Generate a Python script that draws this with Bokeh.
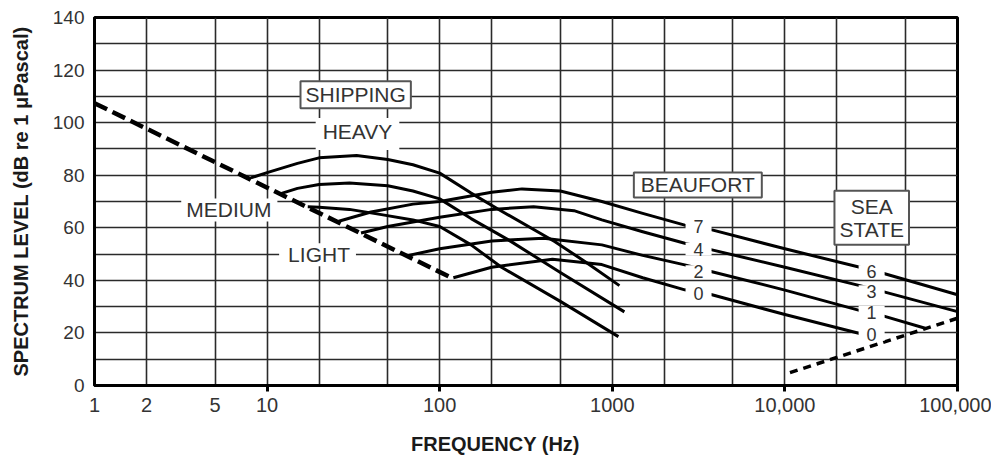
from bokeh.plotting import figure
from bokeh.models import FixedTicker, Label
from bokeh.embed import file_html
from bokeh.resources import INLINE

# ---------------- data ----------------
# turbulence / lower shipping boundary (dashed)
freq_turb = [1, 117]
lvl_turb = [107.4, 41.0]

# shipping curves
freq_heavy = [8.05, 10, 15, 20, 33, 50, 70, 100, 152, 226, 463, 700, 1100]
lvl_heavy = [79.0, 81.0, 84.5, 86.6, 87.5, 86.0, 84.0, 80.8, 73.2, 66.5, 54.8, 47.0, 38.0]

freq_medium = [12, 15, 20, 30, 50, 70, 100, 152, 250, 500, 1175]
lvl_medium = [73.0, 75.0, 76.5, 77.0, 76.0, 74.0, 71.0, 63.5, 55.4, 43.0, 28.0]

freq_light = [17.2, 20, 30, 46, 70, 100, 152, 228, 500, 1085]
lvl_light = [68.0, 67.8, 67.0, 65.0, 63.0, 60.5, 53.5, 45.0, 32.0, 18.6]

# Beaufort / sea-state curves
freq_b7 = [26, 40, 70, 100, 200, 300, 500, 870, 1500, 2630, 3780, 10000, 28700, 36600, 100000]
lvl_b7 = [62.5, 66.0, 69.0, 70.0, 73.5, 74.8, 74.0, 70.0, 65.5, 61.0, 59.2, 52.0, 44.6, 42.8, 34.5]

freq_b4 = [35, 50, 100, 200, 350, 600, 870, 1500, 2630, 3780, 10000, 28700, 36600, 100000]
lvl_b4 = [58.0, 60.5, 64.0, 67.0, 68.0, 66.5, 63.0, 58.5, 54.1, 51.6, 45.0, 37.6, 35.8, 28.1]

freq_b2 = [65, 100, 200, 400, 870, 1500, 2630, 3780, 10000, 28700, 36600, 65000]
lvl_b2 = [49.4, 52.0, 55.0, 56.0, 53.5, 49.5, 45.9, 43.3, 36.3, 28.1, 26.6, 21.8]

freq_b0 = [120, 200, 450, 870, 1500, 2630, 3780, 10000, 29000]
lvl_b0 = [41.0, 45.0, 48.0, 46.0, 41.0, 36.4, 34.5, 27.0, 19.3]

# thermal noise (dashed)
freq_thermal = [10700, 100000]
lvl_thermal = [4.9, 25.6]

# axes
x_label_ticks = [1, 2, 5, 10, 100, 1000, 10000, 100000]
x_label_text = ["1", "2", "5", "10", "100", "1000", "10,000", "100,000"]
x_mark_ticks = [10, 100, 1000, 10000, 100000]
x_grid_ticks = [1, 2, 5, 10, 20, 50, 100, 200, 500, 1000, 2000, 5000,
                10000, 20000, 50000, 100000]
y_label_ticks = [0, 20, 40, 60, 80, 100, 120, 140]
y_grid_ticks = [0, 10, 20, 30, 40, 50, 60, 70, 80, 90, 100, 110, 120, 130, 140]

# annotation texts and positions
box_texts = ["SHIPPING", "BEAUFORT", "SEA\nSTATE"]
box_freq = [32.6, 3130, 31850]
box_lvl = [110.6, 76.3, 63.8]

plain_texts = ["HEAVY", "MEDIUM", "LIGHT"]
plain_freq = [33.4, 6.04, 19.6]
plain_lvl = [95.7, 66.8, 49.7]

beaufort_numbers = ["7", "4", "2", "0"]
beaufort_freq = [3160, 3160, 3160, 3160]
beaufort_lvl = [60.5, 51.9, 43.3, 34.9]

sea_numbers = ["6", "3", "1", "0"]
sea_freq = [31800, 31800, 31800, 31800]
sea_lvl = [43.3, 35.7, 27.9, 19.5]

# ---------------- figure ----------------
FONT = "Liberation Sans"
TXT = "#333333"

p = figure(width=991, height=459, x_axis_type="log",
           x_range=(1, 100000), y_range=(0, 140),
           output_backend="svg", toolbar_location=None,
           min_border_left=94, min_border_right=34,
           min_border_top=17, min_border_bottom=74)

p.background_fill_color = "white"
p.border_fill_color = "white"
p.outline_line_color = "black"
p.outline_line_width = 3

# grid
p.xgrid.ticker = FixedTicker(ticks=x_grid_ticks)
p.ygrid.ticker = FixedTicker(ticks=y_grid_ticks)
for g in (p.xgrid, p.ygrid):
    g.grid_line_color = "#2a2a2a"
    g.grid_line_width = 1.6
    g.grid_line_alpha = 1.0

# x axis
xa = p.xaxis[0]
xa.ticker = FixedTicker(ticks=x_label_ticks, minor_ticks=x_mark_ticks)
xa.major_label_overrides = {t: s for t, s in zip(x_label_ticks, x_label_text)}
xa.major_tick_out = 0
xa.major_tick_in = 0
xa.minor_tick_out = 6
xa.minor_tick_in = 0
xa.minor_tick_line_width = 3
xa.minor_tick_line_color = "black"
xa.axis_line_width = 3
xa.axis_line_color = "black"
xa.major_label_text_font = FONT
xa.major_label_text_font_size = "20px"
xa.major_label_text_color = TXT
xa.major_label_standoff = 6
xa.axis_label = "FREQUENCY (Hz)" + "\u00a0" * 11
xa.axis_label_text_font = FONT
xa.axis_label_text_font_size = "20px"
xa.axis_label_text_font_style = "bold"
xa.axis_label_text_color = "#1a1a1a"
xa.axis_label_standoff = 18

# y axis
ya = p.yaxis[0]
ya.ticker = FixedTicker(ticks=y_label_ticks)
ya.major_tick_out = 0
ya.major_tick_in = 0
ya.minor_tick_out = 0
ya.minor_tick_in = 0
ya.axis_line_width = 3
ya.axis_line_color = "black"
ya.major_label_text_font = FONT
ya.major_label_text_font_size = "19px"
ya.major_label_text_color = TXT
ya.major_label_standoff = 10
ya.axis_label = "SPECTRUM LEVEL (dB re 1 \u03bcPascal)"
ya.axis_label_text_font = FONT
ya.axis_label_text_font_size = "20px"
ya.axis_label_text_font_style = "bold"
ya.axis_label_text_color = "#1a1a1a"
ya.axis_label_standoff = 18

# curves
p.line(freq_turb, lvl_turb, line_color="black", line_width=4.5, line_dash="14 6")
p.line(freq_thermal, lvl_thermal, line_color="black", line_width=3.5, line_dash="8 6")
for fx, ly in [(freq_heavy, lvl_heavy), (freq_medium, lvl_medium), (freq_light, lvl_light),
               (freq_b7, lvl_b7), (freq_b4, lvl_b4), (freq_b2, lvl_b2), (freq_b0, lvl_b0)]:
    p.line(fx, ly, line_color="black", line_width=3, line_join="round")

# boxed labels
box_pads = [dict(left=5, right=5, top=2, bottom=2),
            dict(left=7, right=7, top=1, bottom=1),
            dict(left=5, right=5, top=4, bottom=4)]
for t, fx, ly, pad in zip(box_texts, box_freq, box_lvl, box_pads):
    p.add_layout(Label(x=fx, y=ly, text=t, text_font=FONT, text_font_size="21px",
                       text_color=TXT, text_align="center", text_baseline="middle",
                       text_line_height=1.0,
                       background_fill_color="white", border_line_color="#555555",
                       border_line_width=2, padding=pad))

plain_pads = [dict(left=7, right=7, top=2, bottom=7),
              dict(left=5, right=6, top=0, bottom=0),
              dict(left=9, right=6, top=0, bottom=0)]
for t, fx, ly, pad in zip(plain_texts, plain_freq, plain_lvl, plain_pads):
    p.add_layout(Label(x=fx, y=ly, text=t, text_font=FONT, text_font_size="21px",
                       text_color=TXT, text_align="center", text_baseline="middle",
                       background_fill_color="white", padding=pad))

for t, fx, ly in list(zip(beaufort_numbers, beaufort_freq, beaufort_lvl)) + \
        list(zip(sea_numbers, sea_freq, sea_lvl)):
    p.add_layout(Label(x=fx, y=ly, text=t, text_font=FONT, text_font_size="18px",
                       text_color=TXT, text_align="center", text_baseline="middle",
                       background_fill_color="white",
                       padding=dict(left=8, right=8, top=0, bottom=0)))

open("out.html", "w").write(file_html(p, INLINE))
